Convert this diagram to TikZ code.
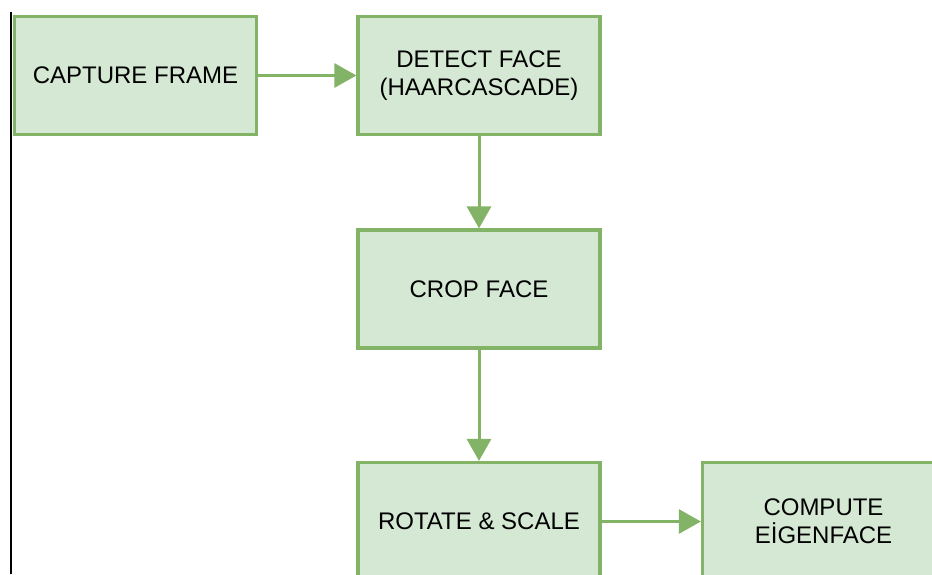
\documentclass[tikz,border=0pt]{standalone}
\usepackage{fontspec}
\setmainfont{Liberation Sans}
\usetikzlibrary{arrows.meta,positioning}
\definecolor{boxfill}{HTML}{D5E8D4}
\definecolor{boxline}{HTML}{82B366}
\begin{document}
\begin{tikzpicture}[x=1pt,y=-1pt,
	stepbox/.style={draw=boxline,fill=boxfill,line width=3.2pt,minimum width=242pt,minimum height=118pt,
		align=center,font=\fontsize{24}{28}\selectfont,inner sep=0pt},
	flow/.style={draw=boxline,line width=3pt,-{Triangle[length=22pt,width=24pt]}}]
	\useasboundingbox (0,0) rectangle (932,574);
	\clip (0,0) rectangle (932,574);
	\draw[line width=1.5pt] (11,12)--(11,574);
	\node[stepbox] (capture) at (135.5,75.5){CAPTURE FRAME};
	\node[stepbox] (detect) at (479,75.5){DETECT FACE\\(HAARCASCADE)};
	\node[stepbox] (crop) at (479,289){CROP FACE};
	\node[stepbox] (rotate) at (479,521.5){ROTATE \& SCALE};
	\node[stepbox] (eigen) at (823.5,521.5){COMPUTE\\EİGENFACE};
	\draw[flow] (capture)--(detect);
	\draw[flow] (detect)--(crop);
	\draw[flow] (crop)--(rotate);
	\draw[flow] (rotate)--(eigen);
\end{tikzpicture}
\end{document}
